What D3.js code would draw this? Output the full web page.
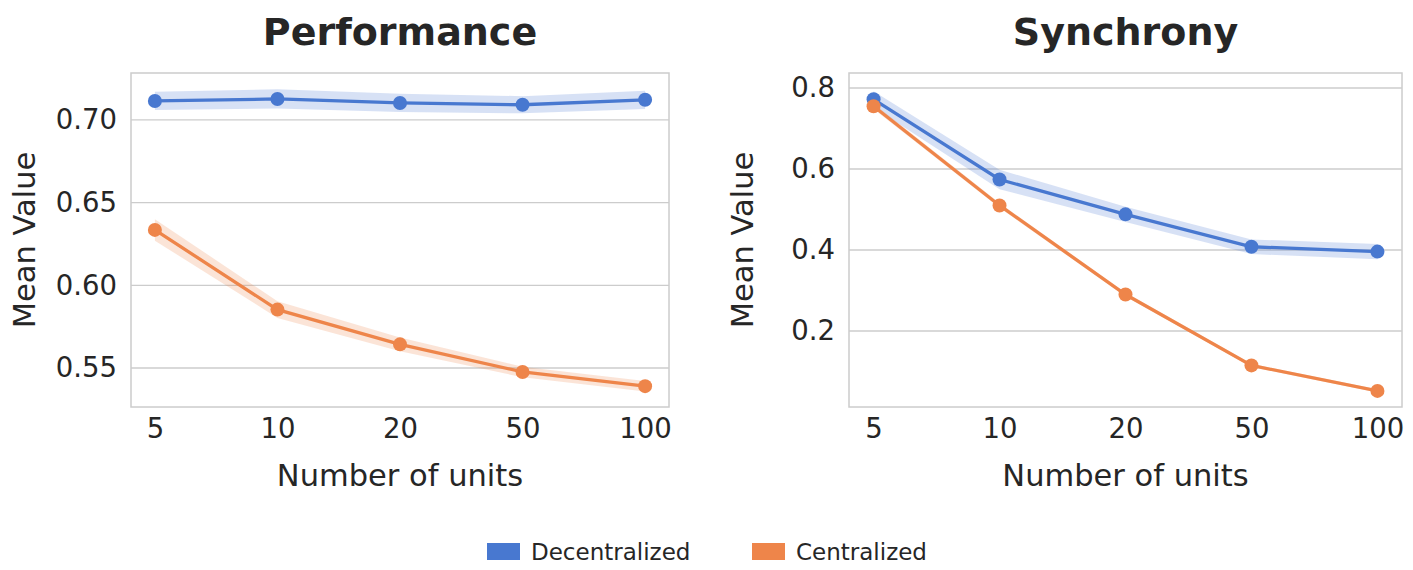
<!DOCTYPE html>
<html>
<head>
<meta charset="utf-8">
<script src="https://cdn.jsdelivr.net/npm/d3@7"></script>
<style>
  body { margin: 0; background: #fff; }
  svg text { font-family: "DejaVu Sans", sans-serif; fill: #262626; }
</style>
</head>
<body>
<div id="chart"></div>
<script>
const units = ["5", "10", "20", "50", "100"];

// Performance panel
const perfDecentral = [0.7115, 0.7127, 0.7103, 0.7092, 0.7122];
const perfDecentralErr = [0.0055, 0.0058, 0.0055, 0.0052, 0.0055];
const perfCentral = [0.6335, 0.5853, 0.5643, 0.5476, 0.5390];
const perfCentralErr = [0.0065, 0.0050, 0.0042, 0.0032, 0.0032];
const perfTicks = [0.55, 0.60, 0.65, 0.70];

// Synchrony panel
const syncDecentral = [0.772, 0.574, 0.488, 0.408, 0.396];
const syncDecentralErr = [0.020, 0.024, 0.019, 0.018, 0.019];
const syncCentral = [0.755, 0.510, 0.290, 0.115, 0.052];
const syncCentralErr = [0.007, 0.006, 0.005, 0.004, 0.004];
const syncTicks = [0.2, 0.4, 0.6, 0.8];

const seriesNames = ["Decentralized", "Centralized"];
const colors = ["#4878d0", "#ee854a"];

const width = 1413, height = 570;
const svg = d3.select("#chart").append("svg")
  .attr("width", width)
  .attr("height", height);

function drawPanel(opts) {
  const {left, right, top, bottom, title, yDomain, ticks, fmt, series} = opts;

  const x = d3.scalePoint()
    .domain(units)
    .range([left, right])
    .padding(0.195);

  const y = d3.scaleLinear()
    .domain(yDomain)
    .range([bottom, top]);

  const g = svg.append("g");

  // horizontal grid
  g.append("g")
    .selectAll("line")
    .data(ticks)
    .enter()
    .append("line")
      .attr("x1", left)
      .attr("x2", right)
      .attr("y1", d => y(d))
      .attr("y2", d => y(d))
      .attr("stroke", "#cccccc")
      .attr("stroke-width", 1.3);

  // frame
  g.append("rect")
    .attr("x", left)
    .attr("y", top)
    .attr("width", right - left)
    .attr("height", bottom - top)
    .attr("fill", "none")
    .attr("stroke", "#cccccc")
    .attr("stroke-width", 1.5);

  const yAxis = d3.axisLeft(y).tickValues(ticks).tickFormat(fmt).tickSize(0).tickPadding(14);
  const yG = g.append("g")
    .attr("transform", `translate(${left}, 0)`)
    .call(yAxis);
  yG.select(".domain").remove();
  yG.selectAll("text").attr("font-size", 27.5).attr("fill", "#262626");

  const xAxis = d3.axisBottom(x).tickSize(0).tickPadding(11);
  const xG = g.append("g")
    .attr("transform", `translate(0, ${bottom})`)
    .call(xAxis);
  xG.select(".domain").remove();
  xG.selectAll("text").attr("font-size", 27.5).attr("fill", "#262626");

  // bands, lines, points
  series.forEach((s, i) => {
    const pts = units.map((u, j) => ({u, v: s.values[j], e: s.err[j]}));

    const area = d3.area()
      .x(d => x(d.u))
      .y0(d => y(d.v - d.e))
      .y1(d => y(d.v + d.e));

    g.append("path")
      .datum(pts)
      .attr("d", area)
      .attr("fill", colors[i])
      .attr("fill-opacity", 0.22);
  });

  series.forEach((s, i) => {
    const pts = units.map((u, j) => ({u, v: s.values[j]}));
    const line = d3.line()
      .x(d => x(d.u))
      .y(d => y(d.v));

    g.append("path")
      .datum(pts)
      .attr("d", line)
      .attr("fill", "none")
      .attr("stroke", colors[i])
      .attr("stroke-width", 3.3);

    g.append("g")
      .selectAll("circle")
      .data(pts)
      .enter()
      .append("circle")
        .attr("cx", d => x(d.u))
        .attr("cy", d => y(d.v))
        .attr("r", 7)
        .attr("fill", colors[i]);
  });

  // title
  g.append("text")
    .attr("x", (left + right) / 2)
    .attr("y", 45)
    .attr("text-anchor", "middle")
    .attr("font-size", 38)
    .attr("font-weight", "bold")
    .text(title);

  // axis labels
  g.append("text")
    .attr("x", (left + right) / 2)
    .attr("y", 486)
    .attr("text-anchor", "middle")
    .attr("font-size", 30.5)
    .text("Number of units");

  g.append("text")
    .attr("transform", `translate(${left - 96}, ${(top + bottom) / 2}) rotate(-90)`)
    .attr("text-anchor", "middle")
    .attr("font-size", 30.5)
    .text("Mean Value");
}

drawPanel({
  left: 131, right: 669, top: 73, bottom: 407,
  title: "Performance",
  yDomain: [0.5264, 0.7284],
  ticks: perfTicks,
  fmt: d3.format(".2f"),
  series: [
    {values: perfDecentral, err: perfDecentralErr},
    {values: perfCentral, err: perfCentralErr}
  ]
});

drawPanel({
  left: 849, right: 1402, top: 73, bottom: 407,
  title: "Synchrony",
  yDomain: [0.0123, 0.837],
  ticks: syncTicks,
  fmt: d3.format(".1f"),
  series: [
    {values: syncDecentral, err: syncDecentralErr},
    {values: syncCentral, err: syncCentralErr}
  ]
});

// legend
const legendX = [487, 752];
const legend = svg.append("g")
  .selectAll("g")
  .data(seriesNames)
  .enter()
  .append("g")
    .attr("transform", (d, i) => `translate(${legendX[i]}, 543)`);

legend.append("rect")
  .attr("width", 33)
  .attr("height", 17)
  .attr("fill", (d, i) => colors[i]);

legend.append("text")
  .attr("x", 44)
  .attr("y", 17)
  .attr("font-size", 23)
  .text(d => d);
</script>
</body>
</html>
